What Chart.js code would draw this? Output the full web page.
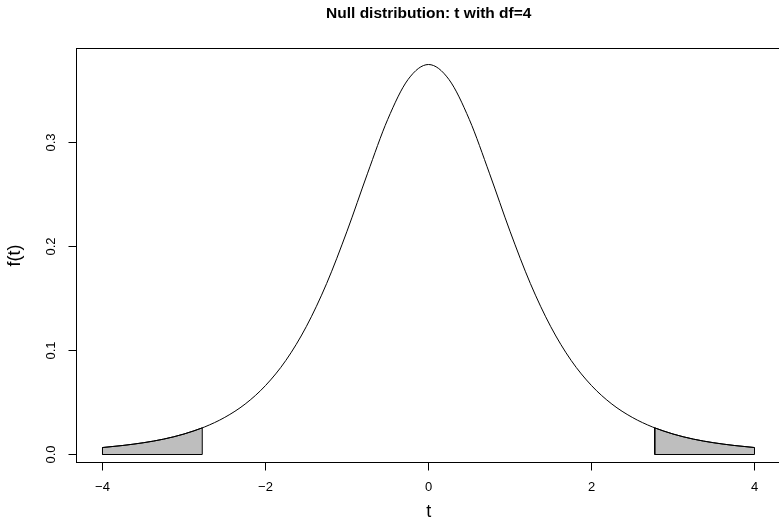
<!DOCTYPE html>
<html>
<head>
<meta charset="utf-8">
<title>Null distribution: t with df=4</title>
<script src="https://cdn.jsdelivr.net/npm/chart.js@4/dist/chart.umd.min.js"></script>
<style>
  html, body { margin: 0; padding: 0; background: #fff; overflow: hidden; }
  #wrap { width: 781px; height: 524px; position: relative; }
</style>
</head>
<body>
<div id="wrap"><canvas id="chart"></canvas></div>
<script>
// density curve
const tValues = [-4, -3.75, -3.5, -3.25, -3, -2.75, -2.5, -2.25, -2, -1.75, -1.5, -1.25, -1, -0.75, -0.5, -0.25,
                 0, 0.25, 0.5, 0.75, 1, 1.25, 1.5, 1.75, 2, 2.25, 2.5, 2.75, 3, 3.25, 3.5, 3.75, 4];
const density = [0.0067, 0.0087, 0.0113, 0.0148, 0.0197, 0.0264, 0.0357, 0.0485, 0.0663, 0.0905, 0.1229, 0.1644, 0.2147, 0.2699, 0.3223, 0.3607,
                 0.3750, 0.3607, 0.3223, 0.2699, 0.2147, 0.1644, 0.1229, 0.0905, 0.0663, 0.0485, 0.0357, 0.0264, 0.0197, 0.0148, 0.0113, 0.0087, 0.0067];

// shaded tails (beyond the critical value)
const leftTailT = [-4, -3.75, -3.5, -3.25, -3, -2.776];
const leftTailF = [0.0067, 0.0087, 0.0113, 0.0148, 0.0197, 0.0256];
const rightTailT = [2.776, 3, 3.25, 3.5, 3.75, 4];
const rightTailF = [0.0256, 0.0197, 0.0148, 0.0113, 0.0087, 0.0067];

const xTicks = [-4, -2, 0, 2, 4];
const yTicks = [0, 0.1, 0.2, 0.3];
const chartTitle = 'Null distribution: t with df=4';
const xTitle = 't';
const yTitle = 'f(t)';

const FONT = '"Liberation Sans", Arial, Helvetica, sans-serif';
Chart.defaults.font.family = FONT;
Chart.defaults.color = '#000';

const toPoints = (xs, ys) => xs.map((x, i) => ({ x: x, y: ys[i] }));

// outline of a tail polygon: up the sides and along the base
function tailOutline(xs, ys) {
    const n = xs.length - 1;
    return [
        { x: xs[0], y: ys[0] },
        { x: xs[0], y: 0 },
        { x: xs[n], y: 0 },
        { x: xs[n], y: ys[n] }
    ];
}

// box round the plot region + main title
const framePlugin = {
    id: 'frame',
    afterDraw(chart) {
        const { ctx, chartArea: a } = chart;
        ctx.save();
        ctx.strokeStyle = '#000';
        ctx.lineWidth = 1;
        ctx.strokeRect(a.left, a.top, a.right - a.left, a.bottom - a.top);
        ctx.fillStyle = '#000';
        ctx.font = 'bold 15.5px ' + FONT;
        ctx.textAlign = 'center';
        ctx.textBaseline = 'middle';
        ctx.fillText(chartTitle, (a.left + a.right) / 2, 14);
        ctx.restore();
    }
};

const lineStyle = { pointRadius: 0, borderColor: '#000', borderWidth: 1 };

new Chart(document.getElementById('chart'), {
    type: 'line',
    data: {
        datasets: [
            {
                ...lineStyle,
                data: toPoints(tValues, density),
                cubicInterpolationMode: 'monotone',
                fill: false
            },
            { ...lineStyle, data: tailOutline(leftTailT, leftTailF), tension: 0, fill: false },
            { ...lineStyle, data: tailOutline(rightTailT, rightTailF), tension: 0, fill: false },
            {
                ...lineStyle,
                data: toPoints(leftTailT, leftTailF),
                cubicInterpolationMode: 'monotone',
                fill: 'origin',
                backgroundColor: '#bebebe'
            },
            {
                ...lineStyle,
                data: toPoints(rightTailT, rightTailF),
                cubicInterpolationMode: 'monotone',
                fill: 'origin',
                backgroundColor: '#bebebe'
            }
        ]
    },
    options: {
        responsive: true,
        maintainAspectRatio: false,
        animation: false,
        events: [],
        layout: { padding: { top: 48.5, left: 0, right: 0, bottom: 0 } },
        plugins: {
            legend: { display: false },
            tooltip: { enabled: false },
            title: { display: false }
        },
        scales: {
            x: {
                type: 'linear',
                min: -4.319,
                max: 4.325,
                afterBuildTicks: s => { s.ticks = xTicks.map(v => ({ value: v })); },
                afterFit: s => { s.height = 61.5; },
                ticks: {
                    callback: v => (v < 0 ? '\u2212' + Math.abs(v) : String(v)),
                    font: { size: 13 },
                    padding: 9,
                    maxRotation: 0,
                    autoSkip: false
                },
                grid: { drawOnChartArea: false, drawTicks: true, tickLength: 8, color: '#000' },
                border: { display: false },
                title: { display: true, text: xTitle, font: { size: 18 }, padding: { top: 0, bottom: 1 } }
            },
            y: {
                type: 'linear',
                min: -0.00769,
                max: 0.3904,
                afterBuildTicks: s => { s.ticks = yTicks.map(v => ({ value: v })); },
                afterFit: s => { s.width = 76.5; },
                ticks: {
                    callback: v => v.toFixed(1),
                    font: { size: 13 },
                    padding: 8,
                    minRotation: 90,
                    maxRotation: 90,
                    crossAlign: 'center',
                    autoSkip: false
                },
                grid: { drawOnChartArea: false, drawTicks: true, tickLength: 8, color: '#000' },
                border: { display: false },
                title: { display: true, text: yTitle, font: { size: 18 }, padding: { top: 4, bottom: 0 } }
            }
        }
    },
    plugins: [framePlugin]
});
</script>
</body>
</html>
